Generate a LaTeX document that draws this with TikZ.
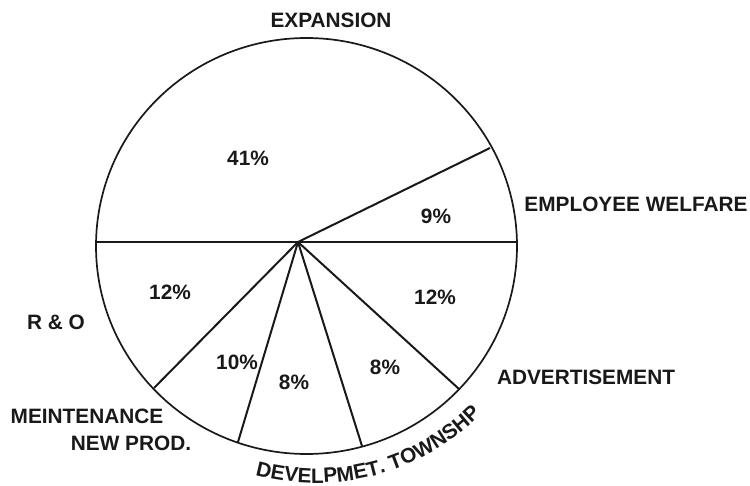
\documentclass[tikz,border=0pt]{standalone}
\usepackage{fontspec}
\setmainfont{Liberation Sans}
\usetikzlibrary{decorations.text}
\begin{document}
\begin{tikzpicture}[x=1pt,y=-1pt,
  lbl/.style={font=\bfseries\fontsize{20.8}{25}\selectfont,inner sep=0pt,text=black!90},
  rim/.style={line width=1.7pt,black!90},
  spoke/.style={line width=2pt,black!90},
  axis/.style={line width=2.6pt,black!90}]
\useasboundingbox (0,0) rectangle (750,486);
% pie outline
\coordinate (o) at (306.5,246);
\draw[rim] (o) ellipse [x radius=210.5, y radius=208];
% centre of slices and rim points
\coordinate (c) at (298,242);
\coordinate (w) at (96,242);
\coordinate (e) at (517,242);
\coordinate (p1) at (490,148);
\coordinate (p2) at (459,389);
\coordinate (p3) at (362,446);
\coordinate (p4) at (238,442);
\coordinate (p5) at (154,388);
\draw[axis] (w) -- (e);
\draw[spoke] (c) -- (p1);
\draw[spoke] (c) -- (p2);
\draw[spoke] (c) -- (p3);
\draw[spoke] (c) -- (p4);
\draw[spoke] (c) -- (p5);
% percentages
\node[lbl] (v41) at (248,158) {41\%};
\node[lbl] (v9) at (436,216) {9\%};
\node[lbl] (v12a) at (435,297) {12\%};
\node[lbl] (v8a) at (385,367) {8\%};
\node[lbl] (v8b) at (294,382) {8\%};
\node[lbl] (v10) at (237,362) {10\%};
\node[lbl] (v12b) at (170,292) {12\%};
% category labels
\node[lbl] (lexp) at (331,20) {EXPANSION};
\node[lbl] (lemp) at (636,204) {EMPLOYEE WELFARE};
\node[lbl] (ladv) at (586,377) {ADVERTISEMENT};
\node[lbl] (lro) at (56,322) {R \& O};
\node[lbl] (lmei) at (87,416.5) {MEINTENANCE};
\node[lbl] (lnew) at (131,443) {NEW PROD.};
% curved label
\path[decorate,decoration={text along path,text align=center,
  text format delimiters={|}{|},
  text={|\bfseries\fontsize{20.8}{25}\selectfont\color{black!90}|DEVELPMET. TOWNSHP}}]
  (316,250) ++(104:233) arc[start angle=104, end angle=46, radius=233];
\end{tikzpicture}
\end{document}
